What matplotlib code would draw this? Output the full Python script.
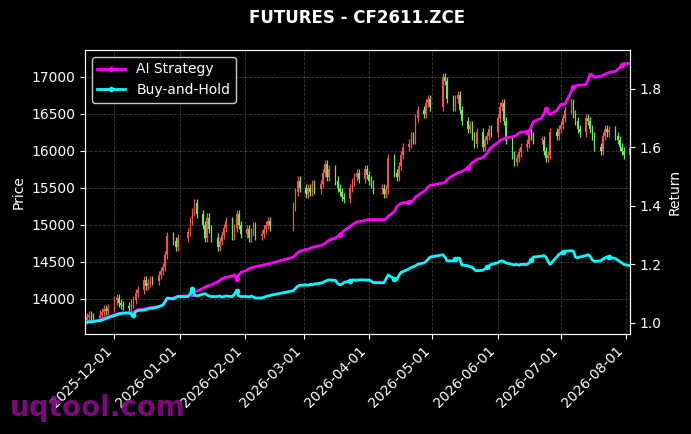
import matplotlib
matplotlib.use("Agg")
import matplotlib.pyplot as plt
import matplotlib.dates as mdates
import numpy as np
import pandas as pd

# trading calendar (weekdays minus exchange holidays)
holidays = ['2026-01-01', '2026-01-02', '2026-02-16', '2026-02-17', '2026-02-18',
            '2026-02-19', '2026-02-20', '2026-02-23', '2026-04-06', '2026-05-01',
            '2026-05-04', '2026-05-05', '2026-06-19']

first_open = 13750
close = [
    13720, 13750, 13780, 13760, 13740,
    13790, 13820, 13860, 13840, 13880,
    13980, 14010, 13950, 13920, 13900,
    13880, 13940, 13990, 14080, 14120,
    14250, 14180, 14220, 14260, 14240,
    14320, 14380, 14430, 14600, 14850,
    14780, 14700, 14820,
    14900, 15050, 15180, 15300, 15150,
    15000, 14820, 15100, 14950, 14830,
    14700, 14780, 14870, 14960, 15050,
    14850, 14960, 15150, 15000, 14880,
    14950, 14830, 14900, 14980, 14850,
    14880, 14950, 15000, 15050, 14980,
    15250, 15450, 15600, 15500,
    15420, 15500, 15450, 15550, 15480,
    15550, 15700, 15820, 15650, 15750,
    15600, 15500, 15450, 15380, 15350,
    15500, 15580, 15650, 15700, 15620,
    15750, 15680, 15600, 15550, 15480,
    15500, 15420, 15480, 15900,
    15700, 15650, 15800, 15950, 16050,
    16100, 16200, 16150, 16450, 16550,
    16500, 16650, 16700, 16600,
    17000, 16950, 16700,
    16600, 16700, 16750, 16550, 16400,
    16300, 16350, 16200, 16100, 16250,
    16050, 16150, 16200, 16300, 16250,
    16450, 16600, 16650, 16400, 16150,
    15950, 15850, 15900, 15980, 16050,
    16100, 16250, 16200, 16150,
    16150, 16000, 15900, 15950, 16250,
    16200, 16300, 16350, 16450, 16550,
    16650, 16500, 16400, 16300, 16250,
    16450, 16400, 16300, 16200, 16050,
    16000, 16200, 16300, 16250, 16280,
    16200, 16150, 16050, 16000, 15950,
    16050,
]

buy_hold = [
    1.000, 1.002, 1.004, 1.003, 1.005,
    1.008, 1.010, 1.012, 1.015, 1.018,
    1.025, 1.028, 1.030, 1.032, 1.033,
    1.034, 1.030, 1.027, 1.038, 1.042,
    1.044, 1.046, 1.048, 1.050, 1.050,
    1.055, 1.058, 1.060, 1.072, 1.085,
    1.082, 1.086, 1.090,
    1.090, 1.100, 1.115, 1.095, 1.092,
    1.098, 1.100, 1.095, 1.092, 1.090,
    1.090, 1.092, 1.088, 1.090, 1.092,
    1.090, 1.098, 1.108, 1.092, 1.090,
    1.090, 1.088, 1.092, 1.088, 1.085,
    1.085, 1.088, 1.090, 1.092, 1.094,
    1.110, 1.118, 1.125, 1.128,
    1.130, 1.128, 1.132, 1.130, 1.133,
    1.136, 1.138, 1.142, 1.145, 1.147,
    1.145, 1.135, 1.130, 1.132, 1.138,
    1.144, 1.146, 1.147, 1.145, 1.147,
    1.147, 1.146, 1.147, 1.142, 1.138,
    1.137, 1.137, 1.150, 1.164,
    1.150, 1.147, 1.160, 1.172, 1.175,
    1.185, 1.190, 1.192, 1.195, 1.200,
    1.205, 1.210, 1.218, 1.225,
    1.233, 1.225, 1.212,
    1.212, 1.218, 1.222, 1.220, 1.198,
    1.195, 1.192, 1.190, 1.182, 1.178,
    1.180, 1.185, 1.190, 1.195, 1.200,
    1.205, 1.210, 1.212, 1.210, 1.205,
    1.200, 1.198, 1.200, 1.197, 1.200,
    1.200, 1.205, 1.215, 1.225,
    1.228, 1.230, 1.225, 1.210, 1.200,
    1.225, 1.233, 1.238, 1.242, 1.245,
    1.247, 1.245, 1.225, 1.222, 1.225,
    1.230, 1.233, 1.228, 1.215, 1.210,
    1.212, 1.218, 1.222, 1.226, 1.224,
    1.220, 1.215, 1.210, 1.205, 1.200,
    1.195,
]

ai_strategy = [
    1.000, 1.002, 1.004, 1.003, 1.005,
    1.010, 1.013, 1.016, 1.018, 1.020,
    1.027, 1.030, 1.032, 1.033, 1.034,
    1.034, 1.034, 1.034, 1.040, 1.045,
    1.047, 1.049, 1.050, 1.052, 1.053,
    1.056, 1.058, 1.062, 1.072, 1.082,
    1.085, 1.088, 1.090,
    1.093, 1.096, 1.100, 1.104, 1.108,
    1.118, 1.122, 1.126, 1.128, 1.130,
    1.140, 1.145, 1.150, 1.153, 1.156,
    1.160, 1.165, 1.150, 1.162, 1.172,
    1.180, 1.185, 1.188, 1.190, 1.192,
    1.197, 1.199, 1.200, 1.201, 1.203,
    1.225, 1.232, 1.240, 1.245,
    1.250, 1.252, 1.255, 1.258, 1.260,
    1.264, 1.268, 1.272, 1.278, 1.283,
    1.290, 1.296, 1.302, 1.308, 1.315,
    1.330, 1.335, 1.340, 1.344, 1.346,
    1.350, 1.352, 1.353, 1.353, 1.353,
    1.353, 1.353, 1.355, 1.365,
    1.380, 1.397, 1.403, 1.408, 1.410,
    1.412, 1.414, 1.420, 1.430, 1.435,
    1.450, 1.455, 1.465, 1.470,
    1.478, 1.480, 1.490,
    1.505, 1.508, 1.512, 1.515, 1.517,
    1.530, 1.540, 1.548, 1.552, 1.558,
    1.565, 1.572, 1.580, 1.592, 1.600,
    1.615, 1.622, 1.627, 1.630, 1.633,
    1.636, 1.638, 1.642, 1.648, 1.652,
    1.654, 1.654, 1.670, 1.688,
    1.700, 1.715, 1.730, 1.720, 1.712,
    1.725, 1.735, 1.747, 1.747, 1.747,
    1.790, 1.805, 1.810, 1.812, 1.812,
    1.815, 1.830, 1.850, 1.845, 1.840,
    1.843, 1.846, 1.850, 1.853, 1.856,
    1.860, 1.866, 1.872, 1.882, 1.886,
    1.887,
]

# indices of days with a trade marker
ai_marks = [17, 35, 50, 79, 101, 118, 138, 144, 153, 170]
bh_marks = [17, 35, 50, 82, 96, 114, 125, 140, 150, 166]

dates = pd.bdate_range('2025-11-17', '2026-08-03')
dates = dates[~dates.isin(pd.to_datetime(holidays))]

close = np.array(close, dtype=float)
opens = np.concatenate([[first_open], close[:-1]])
wick = 55
highs = np.maximum(opens, close) + wick
lows = np.minimum(opens, close) - wick
up = close >= opens
cols = np.where(up, '#f05252', '#6ee85a')

plt.rcParams['font.family'] = 'DejaVu Sans'
fig = plt.figure(figsize=(6.91, 4.34), dpi=100, facecolor='black')
ax = fig.add_axes([0.123, 0.2304, 0.789, 0.6546])
ax.set_facecolor('black')

ax.vlines(dates, lows, highs, colors=cols, lw=0.9)
body = np.where(np.abs(close - opens) < 10, 10, close - opens)
ax.bar(dates, body, bottom=opens, width=0.7, color=cols, edgecolor=cols, lw=0)

ax.set_ylim(13527, 17365)
ax.set_xlim(dates[0], dates[-1])
ax.set_ylabel('Price', color='white', fontsize=10)
ax.grid(True, linestyle='--', color='gray', alpha=0.45, lw=0.6)
ax.xaxis.set_major_locator(mdates.MonthLocator())
ax.xaxis.set_major_formatter(mdates.DateFormatter('%Y-%m-%d'))
plt.setp(ax.get_xticklabels(), rotation=45, ha='right')

ax2 = ax.twinx()
ax2.plot(dates, ai_strategy, color='#ff00ff', lw=2, marker='o', markersize=3,
         markevery=ai_marks, label='AI Strategy')
ax2.plot(dates, buy_hold, color='#00ffff', lw=2, marker='o', markersize=3,
         markevery=bh_marks, label='Buy-and-Hold')
ax2.set_ylim(0.962, 1.933)
ax2.set_yticks([1.0, 1.2, 1.4, 1.6, 1.8])
ax2.set_ylabel('Return', color='white', fontsize=10)

for a in (ax, ax2):
    a.tick_params(colors='white', labelsize=10)
    for s in a.spines.values():
        s.set_color('white')

leg = ax2.legend(loc='upper left', facecolor='black', edgecolor='white',
                 labelcolor='white', fontsize=10)

fig.text(0.517, 0.958, 'FUTURES - CF2611.ZCE', color='white', fontsize=12,
         fontweight='bold', ha='center', va='center')
fig.text(0.014, 0.042, 'uqtool.com', color='#8b0a8b', fontsize=20,
         fontweight='bold', ha='left', va='baseline', alpha=0.9)

fig.savefig('out.png', dpi=100, facecolor='black')
